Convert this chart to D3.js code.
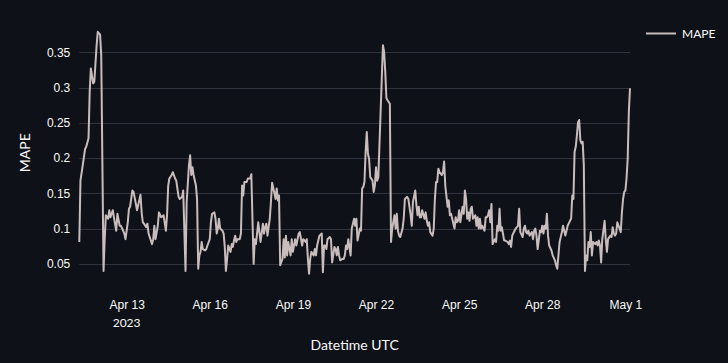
<!DOCTYPE html>
<html>
<head>
<meta charset="utf-8">
<script src="https://cdn.jsdelivr.net/npm/d3@7"></script>
<style>
  html, body { margin: 0; padding: 0; background: #0e1117; }
  svg { display: block; font-family: "Lato", "Noto Sans", sans-serif; }
</style>
</head>
<body>
<div id="chart"></div>
<script>
// hourly series, offsets in hours from the first sample (2023-04-11 07:00 UTC)
const startUTC = Date.UTC(2023, 3, 11, 7);
const hoursFromStart = [
  0, 1, 3, 5, 6, 8, 9, 10, 12, 13, 15, 16, 18, 19, 21, 22, 23, 25, 26, 27, 29, 30, 32, 33, 35, 36, 38, 39, 40, 42,
  43, 44, 46, 47, 49, 50, 51, 53, 54, 55, 56, 58, 59, 60, 61, 63, 64, 65, 66, 68, 69, 71, 73, 75, 76, 77,
  78, 80, 81, 83, 84, 86, 87, 89, 90, 92, 93, 95, 96, 97, 98, 99, 101, 102, 103, 104, 105, 106, 107, 109, 110, 111,
  113, 114, 115, 117, 118, 119, 120, 121, 122, 124, 125, 126, 127, 128, 129, 131, 132, 133, 134, 135, 136, 137, 139,
  140, 141, 142, 143, 145, 146, 148, 149, 151, 152, 153, 155, 156, 157, 159,
  160, 161, 162, 163, 165, 166, 167, 169, 170, 171, 172, 173, 174, 176, 177, 178, 179, 180, 181, 183, 184, 185, 187,
  188, 190, 191, 193, 194, 196, 197, 198, 199, 200, 201, 203, 204, 205, 206, 207, 208, 210, 211, 212, 213, 214, 215,
  217, 218, 219, 221, 222, 223, 224, 225, 226, 228, 229, 230, 231, 232, 233, 235, 236, 238,
  239, 240, 241, 243, 244, 245, 246, 247, 248, 249, 250, 251, 252, 254, 255, 256, 257, 258, 259, 261, 262, 263, 264,
  265, 266, 267, 269, 270, 271, 273, 274, 275, 276, 277, 278, 280, 281, 282, 284, 285, 287, 288, 289, 291, 292, 293,
  294, 295, 296, 297, 299, 300, 301, 302, 303, 304, 306, 307, 308, 309, 310, 311, 312, 314, 315, 316,
  317, 319, 320, 321, 322, 323, 325, 326, 327, 328, 329, 330, 332, 333, 334, 335, 336, 337, 338, 339, 340, 341, 343,
  344, 345, 346, 347, 348, 349, 351, 352, 353, 354, 355, 356, 357, 358, 360, 361, 362, 363, 364, 365, 366, 368, 369,
  371, 372, 373, 374, 375, 377, 378, 379, 380, 381, 382, 384, 385, 386, 387, 388, 389, 390, 392, 393, 394, 395, 396, 397,
  399, 400, 401, 402, 403, 404, 405, 406, 407, 409, 410, 412, 413, 414, 415, 416, 418, 419, 420, 421, 422, 423, 425,
  426, 427, 428, 429, 430, 431, 432, 433, 434, 435, 436, 437, 438, 439, 440, 441, 442, 443, 444, 445, 447, 448, 449,
  450, 451, 452, 453, 455, 456, 457, 458, 460, 461, 462, 463, 464, 465, 466, 468, 469, 470, 471, 472, 473, 474, 475,
  476, 477
];
const mape = [
  0.081, 0.168, 0.19, 0.213, 0.216, 0.228, 0.294, 0.327, 0.306, 0.308, 0.36, 0.379, 0.375, 0.346, 0.04, 0.085, 0.119, 0.114, 0.126, 0.116, 0.126, 0.116, 0.097, 0.121, 0.104, 0.104, 0.097, 0.093, 0.085, 0.109,
  0.128, 0.131, 0.154, 0.152, 0.135, 0.126, 0.133, 0.148, 0.123, 0.109, 0.107, 0.102, 0.107, 0.093, 0.088, 0.078, 0.085, 0.104, 0.085, 0.104, 0.123, 0.116, 0.119, 0.097, 0.119, 0.161,
  0.171, 0.176, 0.18, 0.171, 0.168, 0.145, 0.142, 0.145, 0.154, 0.04, 0.138, 0.19, 0.204, 0.176, 0.187, 0.176, 0.161, 0.142, 0.043, 0.062, 0.067, 0.081, 0.071, 0.069, 0.071, 0.076,
  0.085, 0.109, 0.121, 0.123, 0.114, 0.093, 0.1, 0.114, 0.1, 0.097, 0.093, 0.074, 0.04, 0.057, 0.076, 0.067, 0.078, 0.074, 0.083, 0.09, 0.081, 0.085, 0.085,
  0.093, 0.161, 0.147, 0.166, 0.166, 0.171, 0.171, 0.177, 0.05, 0.085, 0.078, 0.109, 0.095, 0.081, 0.107,
  0.093, 0.102, 0.107, 0.09, 0.114, 0.138, 0.165, 0.15, 0.142, 0.157, 0.14, 0.147, 0.048, 0.057, 0.085, 0.059, 0.09, 0.062, 0.081, 0.062, 0.085, 0.067, 0.085,
  0.076, 0.093, 0.095, 0.076, 0.085, 0.081, 0.085, 0.057, 0.036, 0.057, 0.067, 0.062, 0.071, 0.062, 0.076, 0.083, 0.09, 0.093, 0.038, 0.076, 0.076, 0.071, 0.085,
  0.088, 0.085, 0.052, 0.074, 0.071, 0.062, 0.074, 0.062, 0.055, 0.057, 0.057, 0.062, 0.076, 0.071, 0.085, 0.062, 0.1, 0.114,
  0.104, 0.114, 0.083, 0.1, 0.097, 0.157, 0.159, 0.166, 0.209, 0.237, 0.206, 0.199, 0.173, 0.168, 0.152, 0.161, 0.187, 0.168, 0.173, 0.266, 0.313, 0.36, 0.351,
  0.323, 0.285, 0.282, 0.277, 0.081, 0.1, 0.119, 0.1, 0.121, 0.097, 0.09, 0.088, 0.1, 0.114, 0.142, 0.145, 0.142, 0.119, 0.104, 0.138, 0.154, 0.133, 0.119,
  0.131, 0.116, 0.116, 0.126, 0.114, 0.123, 0.111, 0.104, 0.109, 0.095, 0.09, 0.1, 0.142, 0.166, 0.166, 0.185, 0.18, 0.176, 0.18, 0.195,
  0.161, 0.131, 0.14, 0.119, 0.121, 0.114, 0.1, 0.116, 0.109, 0.111, 0.126, 0.109, 0.131, 0.121, 0.154, 0.142, 0.114, 0.123, 0.111, 0.128, 0.131, 0.114, 0.119,
  0.104, 0.116, 0.1, 0.114, 0.1, 0.104, 0.097, 0.116, 0.116, 0.119, 0.126, 0.109, 0.135, 0.078, 0.085, 0.081, 0.104, 0.097, 0.128, 0.097, 0.102, 0.083, 0.083,
  0.081, 0.078, 0.083, 0.074, 0.09, 0.097, 0.1, 0.102, 0.104, 0.128, 0.095, 0.088, 0.1, 0.104, 0.095, 0.093, 0.097, 0.09, 0.095, 0.085, 0.097, 0.1, 0.09, 0.071,
  0.097, 0.095, 0.104, 0.093, 0.104, 0.1, 0.121, 0.09, 0.076, 0.069, 0.062, 0.055, 0.048, 0.043, 0.062, 0.081, 0.095, 0.104, 0.097, 0.09, 0.097, 0.104, 0.111,
  0.114, 0.147, 0.142, 0.209, 0.216, 0.232, 0.251, 0.254, 0.225, 0.221, 0.223, 0.19, 0.04, 0.062, 0.055, 0.081, 0.074, 0.095, 0.062, 0.081, 0.078, 0.081, 0.076,
  0.083, 0.076, 0.052, 0.085, 0.111, 0.085, 0.067, 0.085, 0.09, 0.088, 0.102, 0.093, 0.09, 0.093, 0.109, 0.1, 0.095, 0.123, 0.142, 0.152, 0.154, 0.171, 0.199,
  0.266, 0.299
];
const yTicks = [0.05, 0.1, 0.15, 0.2, 0.25, 0.3, 0.35];
const yearLabel = "2023";
const seriesName = "MAPE";

/* Dimensions */
const width = 728;
const height = 363;
const margin = { top: 20, right: 98, bottom: 77.5, left: 79.3 };

const data = hoursFromStart.map((h, i) => ({
    date: new Date(startUTC + h * 3600 * 1000),
    value: mape[i]
}));

const svg = d3.select("#chart")
    .append("svg")
    .attr("width", width)
    .attr("height", height);

svg.append("rect")
    .attr("width", width)
    .attr("height", height)
    .attr("fill", "#0e1117");

const xScale = d3.scaleUtc()
    .domain(d3.extent(data, d => d.date))
    .range([margin.left, width - margin.right]);

// autorange with a small pad, like the original
const yScale = d3.scaleLinear()
    .domain([0.0193, 0.3958])
    .range([height - margin.bottom, margin.top]);

// grid
svg.append("g")
    .selectAll("line")
    .data(yTicks)
    .join("line")
    .attr("x1", margin.left)
    .attr("x2", width - margin.right)
    .attr("y1", d => Math.round(yScale(d)) + 0.5)
    .attr("y2", d => Math.round(yScale(d)) + 0.5)
    .attr("stroke", "#31333f")
    .attr("stroke-width", 1);

// y axis
const yAxis = svg.append("g")
    .attr("transform", `translate(${margin.left},0)`)
    .call(d3.axisLeft(yScale).tickValues(yTicks).tickFormat(d3.format("~g")).tickSize(0).tickPadding(9));
yAxis.select(".domain").remove();
yAxis.selectAll("text")
    .attr("fill", "#fafafa")
    .style("font-size", "12px");

// x axis
const xAxis = svg.append("g")
    .attr("transform", `translate(0,${height - margin.bottom})`)
    .call(d3.axisBottom(xScale)
        .ticks(d3.utcDay.every(3))
        .tickFormat(d3.utcFormat("%b %-d"))
        .tickSize(0)
        .tickPadding(15));
xAxis.select(".domain").remove();
xAxis.selectAll("text")
    .attr("fill", "#fafafa")
    .style("font-size", "12px");

// year under the first tick
const firstTick = xScale.ticks(d3.utcDay.every(3))[0];
svg.append("text")
    .attr("x", xScale(firstTick))
    .attr("y", height - margin.bottom + 41)
    .attr("text-anchor", "middle")
    .attr("fill", "#fafafa")
    .style("font-size", "12px")
    .text(yearLabel);

// the line
const line = d3.line()
    .x(d => xScale(d.date))
    .y(d => yScale(d.value));

svg.append("path")
    .datum(data)
    .attr("d", line)
    .attr("fill", "none")
    .attr("stroke", "#c9bcbc")
    .attr("stroke-width", 2)
    .attr("stroke-linejoin", "round");

// axis titles
svg.append("text")
    .attr("x", (margin.left + width - margin.right) / 2)
    .attr("y", 350)
    .attr("text-anchor", "middle")
    .attr("fill", "#fafafa")
    .style("font-size", "14px")
    .text("Datetime UTC");

svg.append("text")
    .attr("transform", `translate(30,${(margin.top + height - margin.bottom) / 2}) rotate(-90)`)
    .attr("text-anchor", "middle")
    .attr("fill", "#fafafa")
    .style("font-size", "14px")
    .text(seriesName);

// legend
const legend = svg.append("g").attr("transform", "translate(646,33.5)");
legend.append("line")
    .attr("x1", 0)
    .attr("x2", 30)
    .attr("stroke", "#c9bcbc")
    .attr("stroke-width", 2);
legend.append("text")
    .attr("x", 36)
    .attr("dy", "0.35em")
    .attr("fill", "#fafafa")
    .style("font-size", "12px")
    .text(seriesName);
</script>
</body>
</html>
